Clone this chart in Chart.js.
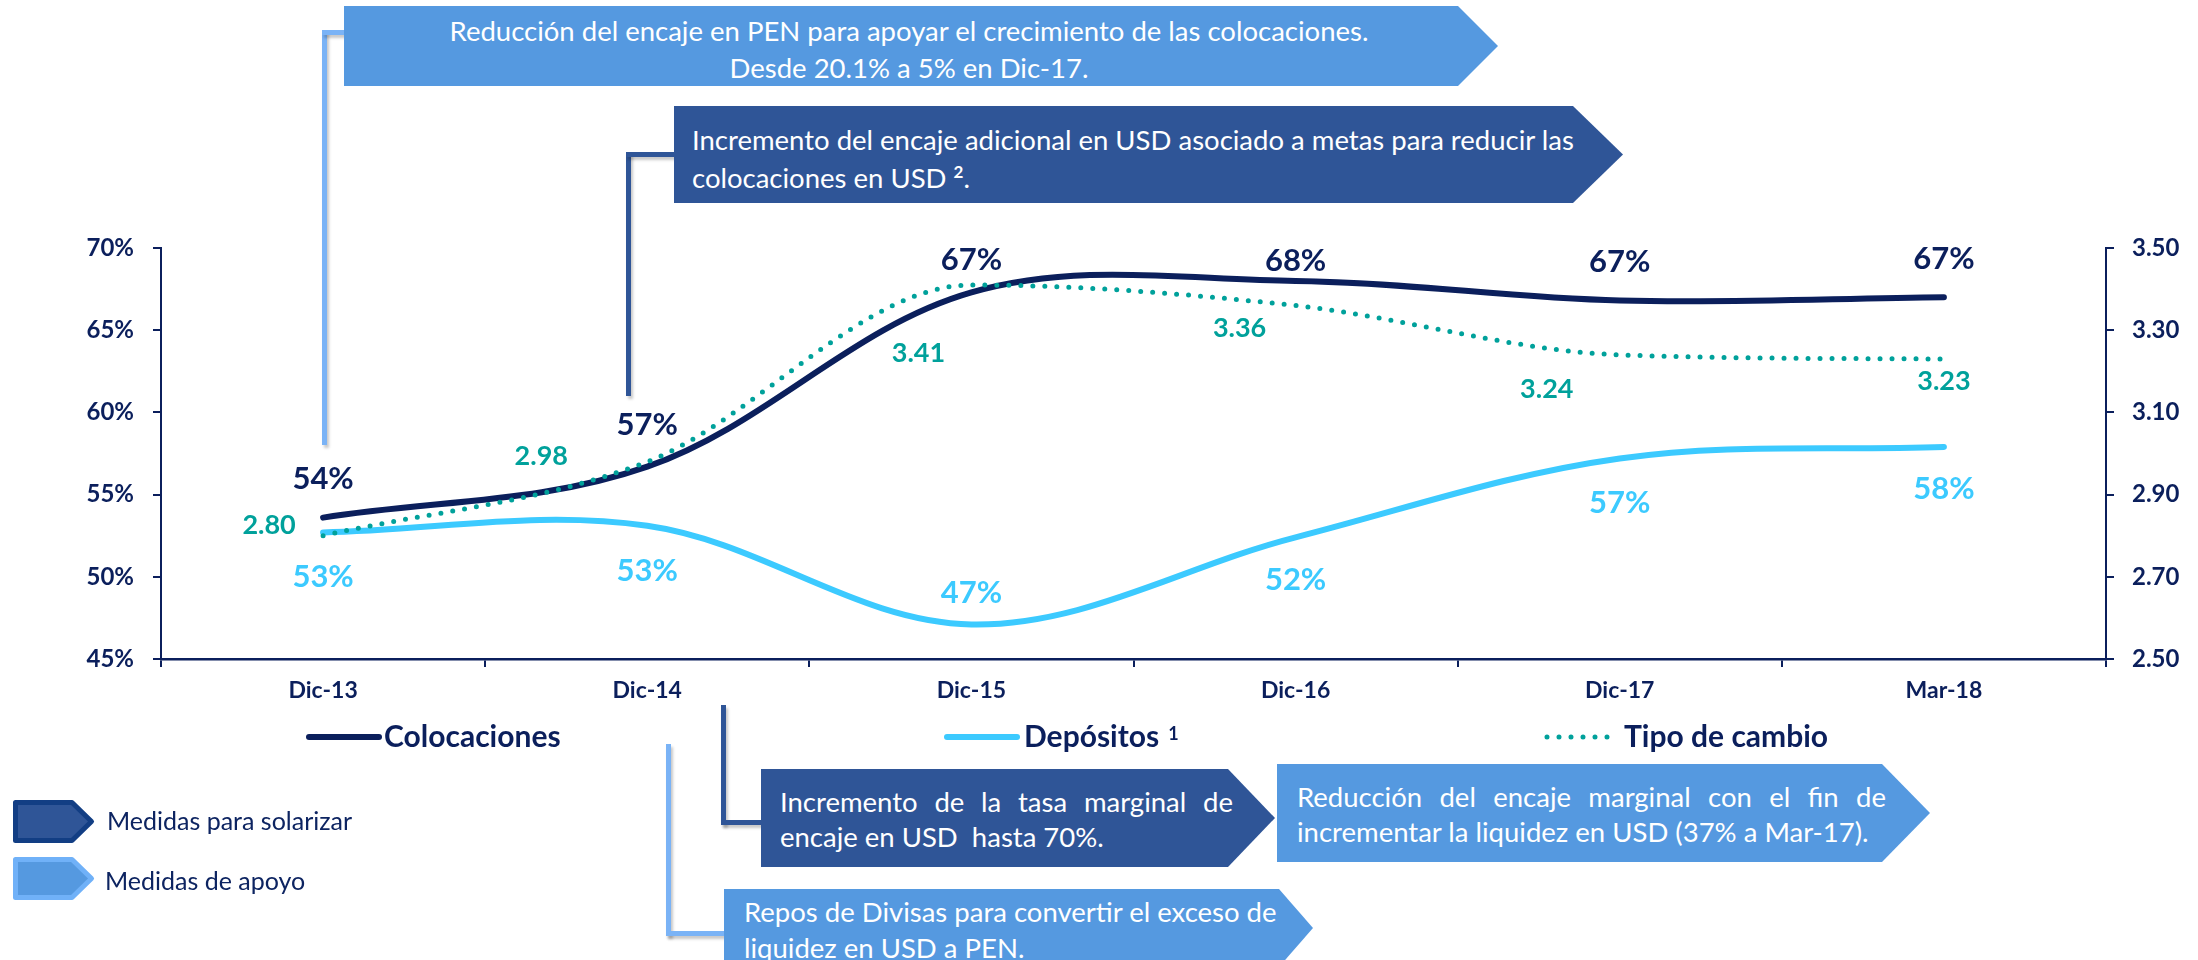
<!DOCTYPE html>
<html>
<head>
<meta charset="utf-8">
<script src="https://cdn.jsdelivr.net/npm/chart.js@4.4.1/dist/chart.umd.min.js"></script>
<style>
  html, body { margin:0; padding:0; background:#ffffff; width:2198px; height:960px; overflow:hidden; }
  body { font-family: Lato, "Noto Sans", sans-serif; }
  #wrap { position:relative; width:2198px; height:960px; }
  #c { position:absolute; left:0; top:0; }
  .box { position:absolute; color:#ffffff; font-size:27.5px; white-space:nowrap; box-sizing:border-box; }
  .light { background:#5599e0; }
  .dark { background:#2f5597; }
  .just { display:flex; justify-content:space-between; }
  .conn { position:absolute; box-shadow: 2px 3px 3px rgba(0,0,0,0.22); }
  .cl { background:#7ab3f6; }
  .cd { background:#2f5597; }
  .leg { position:absolute; color:#0d2461; font-size:25px; white-space:nowrap; line-height:30px; }
  sup.s { font-size:17px; font-weight:bold; line-height:0; vertical-align:10px; }
</style>
</head>
<body>
<div id="wrap">
  <canvas id="c" width="2198" height="960"></canvas>

  <!-- connectors -->
  <div class="conn cl" style="left:322px;top:30px;width:5px;height:415px;"></div>
  <div class="conn cl" style="left:322px;top:30px;width:24px;height:5px;"></div>

  <div class="conn cd" style="left:626px;top:152px;width:5px;height:244px;"></div>
  <div class="conn cd" style="left:626px;top:152px;width:50px;height:5px;"></div>

  <div class="conn cd" style="left:721px;top:705px;width:5px;height:120px;"></div>
  <div class="conn cd" style="left:721px;top:820px;width:42px;height:5px;"></div>

  <div class="conn cl" style="left:666px;top:744px;width:5px;height:192px;"></div>
  <div class="conn cl" style="left:666px;top:931px;width:60px;height:5px;"></div>

  <!-- annotation boxes -->
  <div class="box light" style="left:344px;top:6px;width:1154px;height:80px;clip-path:polygon(0 0,1114px 0,100% 50%,1114px 100%,0 100%);">
    <div style="width:1130px;text-align:center;line-height:37px;padding-top:6px;">Reducción del encaje en PEN para apoyar el crecimiento de las colocaciones.<br>Desde 20.1% a 5% en Dic-17.</div>
  </div>

  <div class="box dark" style="left:674px;top:106px;width:949px;height:97px;clip-path:polygon(0 0,899px 0,100% 50%,899px 100%,0 100%);">
    <div style="padding-left:18px;padding-top:15px;line-height:38px;">Incremento del encaje adicional en USD asociado a metas para reducir las<br>colocaciones en USD <sup class="s">2</sup>.</div>
  </div>

  <div class="box dark" style="left:761px;top:769px;width:514px;height:98px;clip-path:polygon(0 0,467px 0,100% 50%,467px 100%,0 100%);">
    <div style="padding-left:19px;padding-top:15px;line-height:35px;">
      <div class="just" style="width:453px;"><span>Incremento</span><span>de</span><span>la</span><span>tasa</span><span>marginal</span><span>de</span></div>
      <div>encaje en USD&nbsp; hasta 70%.</div>
    </div>
  </div>

  <div class="box light" style="left:1277px;top:764px;width:653px;height:98px;clip-path:polygon(0 0,605px 0,100% 50%,605px 100%,0 100%);">
    <div style="padding-left:20px;padding-top:15px;line-height:35px;">
      <div class="just" style="width:589px;"><span>Reducción</span><span>del</span><span>encaje</span><span>marginal</span><span>con</span><span>el</span><span>fin</span><span>de</span></div>
      <div>incrementar la liquidez en USD (37% a Mar-17).</div>
    </div>
  </div>

  <div class="box light" style="left:724px;top:889px;width:589px;height:78px;clip-path:polygon(0 0,555px 0,100% 50%,555px 100%,0 100%);">
    <div style="padding-left:20px;padding-top:5px;line-height:36px;">Repos de Divisas para convertir el exceso de<br>liquidez en USD a PEN.</div>
  </div>

  <!-- left key -->
  <svg style="position:absolute;left:0;top:0;" width="120" height="960">
    <polygon points="15.5,802.5 72,802.5 91.5,821.5 72,840.5 15.5,840.5" fill="#2f5597" stroke="#123e84" stroke-width="5" stroke-linejoin="round"/>
    <polygon points="15.5,859.5 72,859.5 91.5,878.5 72,897.5 15.5,897.5" fill="#5599e0" stroke="#70b1f8" stroke-width="5" stroke-linejoin="round"/>
  </svg>
  <div class="leg" style="left:107px;top:805px;">Medidas para solarizar</div>
  <div class="leg" style="left:105px;top:865px;">Medidas de apoyo</div>
</div>

<script>
// ---------- data ----------
const categories = ['Dic-13', 'Dic-14', 'Dic-15', 'Dic-16', 'Dic-17', 'Mar-18'];
const colocaciones = [53.6, 56.7, 67.3, 68.0, 66.8, 67.0];
const depositos = [52.7, 53.1, 47.1, 52.4, 57.2, 57.9];
const tipoCambio = [2.80, 2.98, 3.41, 3.36, 3.24, 3.23];
const leftTicks = [45, 50, 55, 60, 65, 70];
const rightTicks = [2.50, 2.70, 2.90, 3.10, 3.30, 3.50];
const seriesNames = ['Colocaciones', 'Depósitos', 'Tipo de cambio'];

// ---------- styles ----------
const NAVY = '#0b1f5c';
const CYAN = '#3ccaff';
const TEAL = '#00a19b';
const FONT = 'Lato';

const valueLabels = {
  id: 'valueLabels',
  afterDatasetsDraw(chart) {
    const ctx = chart.ctx;
    chart.data.datasets.forEach((ds, i) => {
      const meta = chart.getDatasetMeta(i);
      ctx.save();
      ctx.font = ds._lblFont;
      ctx.fillStyle = ds._lblColor;
      ctx.textAlign = 'center';
      ctx.textBaseline = 'middle';
      meta.data.forEach((pt, j) => {
        const off = ds._lblOff[j];
        const v = ds.data[j];
        const txt = ds._lblPct ? Math.round(v) + '%' : v.toFixed(2);
        ctx.fillText(txt, pt.x + off[0], pt.y + off[1]);
      });
      ctx.restore();
    });
  }
};

const seriesLegend = {
  id: 'seriesLegend',
  afterDraw(chart) {
    const ctx = chart.ctx;
    const spots = [ {x0:309, x1:379, tx:384}, {x0:947, x1:1017, tx:1024}, {x0:1547, x1:1613, tx:1624} ];
    const y = 737;
    chart.data.datasets.forEach((ds, i) => {
      const s = spots[i];
      ctx.save();
      ctx.strokeStyle = ds.borderColor;
      ctx.lineWidth = ds.borderWidth;
      ctx.lineCap = 'round';
      ctx.setLineDash(ds.borderDash || []);
      ctx.beginPath();
      ctx.moveTo(s.x0, y);
      ctx.lineTo(s.x1, y);
      ctx.stroke();
      ctx.setLineDash([]);
      ctx.font = 'bold 30px ' + FONT;
      ctx.fillStyle = NAVY;
      ctx.textAlign = 'left';
      ctx.textBaseline = 'alphabetic';
      ctx.fillText(ds.label, s.tx, y + 10);
      if (i === 1) {
        const w = ctx.measureText(ds.label).width;
        ctx.font = 'bold 18px ' + FONT;
        ctx.fillText('1', s.tx + w + 9, y + 3);
      }
      ctx.restore();
    });
  }
};

function makeChart() {
  const ctx = document.getElementById('c').getContext('2d');
  new Chart(ctx, {
    type: 'line',
    data: {
      labels: categories,
      datasets: [
        {
          label: seriesNames[0], data: colocaciones, yAxisID: 'y',
          borderColor: NAVY, borderWidth: 6, borderCapStyle: 'round', tension: 0.35,
          pointRadius: 0, fill: false, order: 2,
          _lblFont: 'bold 31px ' + FONT, _lblColor: NAVY, _lblPct: true,
          _lblOff: [[0,-39],[0,-42],[0,-32],[0,-20],[0,-39],[0,-38]]
        },
        {
          label: seriesNames[1], data: depositos, yAxisID: 'y',
          borderColor: CYAN, borderWidth: 6, borderCapStyle: 'round', tension: 0.35,
          pointRadius: 0, fill: false, order: 3,
          _lblFont: 'bold 31px ' + FONT, _lblColor: CYAN, _lblPct: true,
          _lblOff: [[0,45],[0,45],[0,-31],[0,43],[0,45],[0,42]]
        },
        {
          label: seriesNames[2], data: tipoCambio, yAxisID: 'y1',
          borderColor: TEAL, borderWidth: 5, borderCapStyle: 'round', borderDash: [0, 12],
          cubicInterpolationMode: 'monotone',
          pointRadius: 0, fill: false, order: 1,
          _lblFont: 'bold 27px ' + FONT, _lblColor: TEAL, _lblPct: false,
          _lblOff: [[-54,-10],[-106,-5],[-53,68],[-56,23],[-73,34],[0,22]]
        }
      ]
    },
    options: {
      responsive: false,
      animation: false,
      devicePixelRatio: 1,
      layout: { padding: { top: 248, bottom: 241, left: 0, right: 0 } },
      plugins: { legend: { display: false }, tooltip: { enabled: false } },
      scales: {
        x: {
          offset: true,
          grid: { offset: true, drawOnChartArea: false, color: NAVY, lineWidth: 2, tickLength: 8 },
          border: { color: NAVY, width: 2.5 },
          ticks: { color: NAVY, font: { family: FONT, weight: 'bold', size: 23 }, padding: 10, maxRotation: 0 },
          afterFit(s) { s.height = 60; }
        },
        y: {
          position: 'left', min: 45, max: 70,
          afterBuildTicks(s) { s.ticks = leftTicks.map(v => ({ value: v })); },
          grid: { drawOnChartArea: false, color: NAVY, lineWidth: 2, tickLength: 8 },
          border: { color: NAVY, width: 2 },
          ticks: { color: NAVY, font: { family: FONT, weight: 'bold', size: 24 }, padding: 19, callback: v => v + '%' },
          afterFit(s) { s.width = 161; }
        },
        y1: {
          position: 'right', min: 2.5, max: 3.5,
          afterBuildTicks(s) { s.ticks = rightTicks.map(v => ({ value: v })); },
          grid: { drawOnChartArea: false, color: NAVY, lineWidth: 2, tickLength: 8 },
          border: { color: NAVY, width: 2 },
          ticks: { color: NAVY, font: { family: FONT, weight: 'bold', size: 24 }, padding: 18, callback: v => Number(v).toFixed(2) },
          afterFit(s) { s.width = 92; }
        }
      }
    },
    plugins: [valueLabels, seriesLegend]
  });
}

Promise.all([
  document.fonts.load('bold 24px Lato'),
  document.fonts.load('24px Lato')
]).then(makeChart, makeChart);
</script>
</body>
</html>
